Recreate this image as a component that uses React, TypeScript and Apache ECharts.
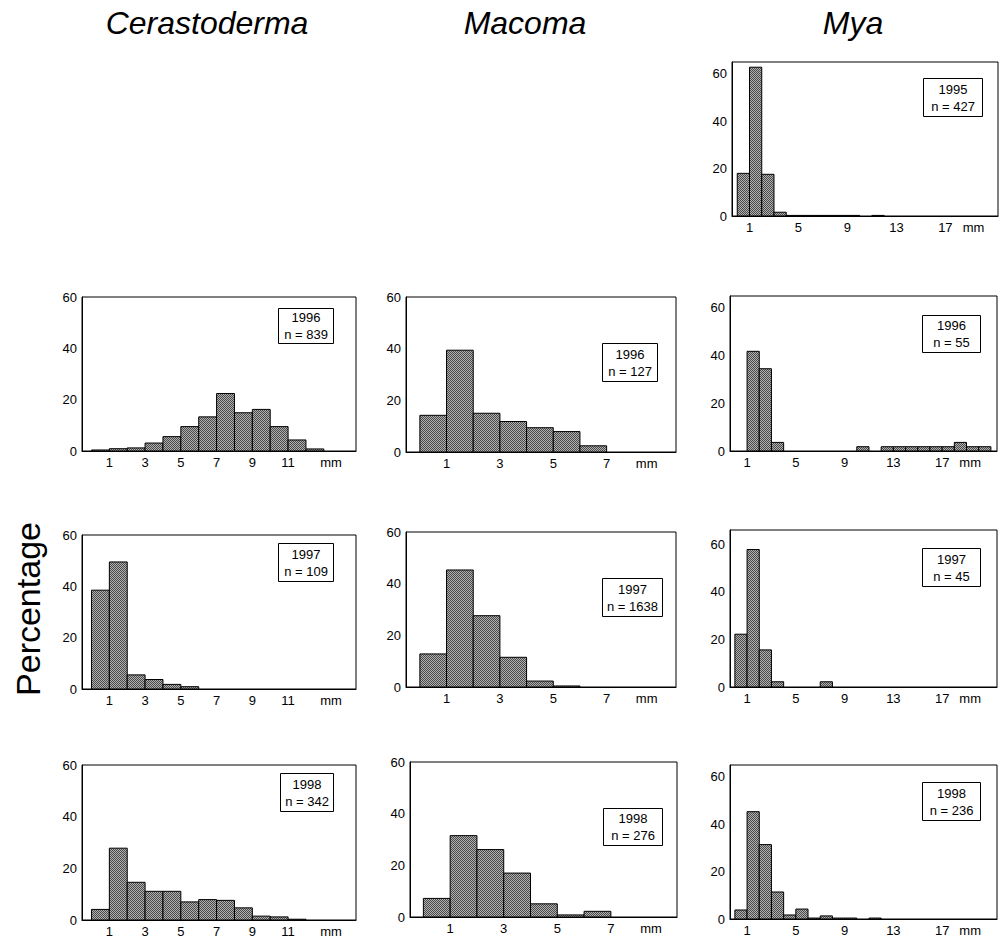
import React, { useEffect, useRef } from 'react';
import * as echarts from 'echarts';

// ---- Text ----
const speciesTitles = ['Cerastoderma', 'Macoma', 'Mya'];
const yAxisTitle = 'Percentage';
const unitLabel = 'mm';

// ---- Tick labels ----
const cerastodermaTicks = [1, 3, 5, 7, 9, 11];
const macomaTicks = [1, 3, 5, 7];
const myaTicks = [1, 5, 9, 13, 17];
const yTicks = [0, 20, 40, 60];

// ---- Data: % per 1-mm size class, first class = 0-1 mm ----
const cerastoderma1996 = [0.4, 0.9, 1.2, 3.1, 5.6, 9.5, 13.3, 22.4, 14.9, 16.2, 9.5, 4.3, 0.8];
const cerastoderma1997 = [38.5, 49.5, 5.5, 3.7, 1.8, 0.9];
const cerastoderma1998 = [4.1, 27.8, 14.6, 11.1, 11.1, 7.0, 7.9, 7.6, 4.7, 1.5, 1.2, 0.3];

const macoma1996 = [14.2, 39.4, 15.0, 11.8, 9.4, 7.9, 2.4];
const macoma1997 = [12.8, 45.3, 27.6, 11.5, 2.3, 0.4];
const macoma1998 = [7.2, 31.5, 26.1, 17.0, 5.1, 0.8, 2.2];

const mya1995 = [18.0, 62.8, 17.6, 1.6, 0.25, 0.25, 0.25, 0.25, 0.25, 0.25, 0, 0.25];
const mya1996 = [0, 41.8, 34.5, 3.6, 0, 0, 0, 0, 0, 0, 1.8, 0, 1.8, 1.8, 1.8, 1.8, 1.8, 1.8, 3.6, 1.8, 1.8];
const mya1997 = [22.2, 57.8, 15.6, 2.2, 0, 0, 0, 2.2];
const mya1998 = [3.8, 45.3, 31.4, 11.4, 1.7, 4.2, 0.4, 1.3, 0.4, 0.4, 0, 0.4];

// ---- Sample labels ----
const years = ['1995', '1996', '1997', '1998'];
const cerastodermaN = [839, 109, 342];
const macomaN = [127, 1638, 276];
const myaN = [427, 55, 45, 236];

// ---- Layout (pixels) ----
type Panel = {
  values: number[];
  grid: [number, number, number, number]; // left, top, right, bottom
  xMin: number;
  xMax: number;
  yMax: number;
  ticks: number[];
  unitPos: number;
  year: string;
  n: number;
  box: [number, number, number, number]; // left, top, w, h
};

const CER = { left: 82, right: 356, xMin: -0.53, xMax: 14.8, ticks: cerastodermaTicks, unitPos: 13.4 };
const MAC = { xMin: -0.52, xMax: 9.6, ticks: macomaTicks, unitPos: 8.5 };
const MYA = { left: 730, right: 997, xMin: -0.4, xMax: 21.5, ticks: myaTicks, unitPos: 19.3 };

const panels: Panel[] = [
  { values: cerastoderma1996, grid: [CER.left, 297, CER.right, 451], xMin: CER.xMin, xMax: CER.xMax, yMax: 60, ticks: CER.ticks, unitPos: CER.unitPos, year: years[1], n: cerastodermaN[0], box: [278, 308, 55, 35] },
  { values: cerastoderma1997, grid: [CER.left, 535, CER.right, 689], xMin: CER.xMin, xMax: CER.xMax, yMax: 60, ticks: CER.ticks, unitPos: CER.unitPos, year: years[2], n: cerastodermaN[1], box: [278, 543, 55, 38] },
  { values: cerastoderma1998, grid: [CER.left, 765, CER.right, 920], xMin: CER.xMin, xMax: CER.xMax, yMax: 60, ticks: CER.ticks, unitPos: CER.unitPos, year: years[3], n: cerastodermaN[2], box: [280, 773, 53, 38] },

  { values: macoma1996, grid: [406, 297, 676, 452], xMin: MAC.xMin, xMax: MAC.xMax, yMax: 60, ticks: MAC.ticks, unitPos: MAC.unitPos, year: years[1], n: macomaN[0], box: [602, 343, 55, 38] },
  { values: macoma1997, grid: [406, 532, 676, 687], xMin: MAC.xMin, xMax: MAC.xMax, yMax: 60, ticks: MAC.ticks, unitPos: MAC.unitPos, year: years[2], n: macomaN[1], box: [602, 578, 60, 38] },
  { values: macoma1998, grid: [410, 762, 677, 917], xMin: -0.5, xMax: 9.47, yMax: 60, ticks: MAC.ticks, unitPos: MAC.unitPos, year: years[3], n: macomaN[2], box: [603, 808, 59, 37] },

  { values: mya1995, grid: [MYA.left + 2, 62, MYA.right + 1, 216], xMin: -0.43, xMax: 21.3, yMax: 65, ticks: MYA.ticks, unitPos: MYA.unitPos, year: years[0], n: myaN[0], box: [923, 78, 59, 38] },
  { values: mya1996, grid: [MYA.left, 296, MYA.right, 451], xMin: MYA.xMin, xMax: MYA.xMax, yMax: 65, ticks: MYA.ticks, unitPos: MYA.unitPos, year: years[1], n: myaN[1], box: [922, 315, 58, 37] },
  { values: mya1997, grid: [MYA.left, 530, MYA.right, 687], xMin: MYA.xMin, xMax: MYA.xMax, yMax: 66, ticks: MYA.ticks, unitPos: MYA.unitPos, year: years[2], n: myaN[2], box: [922, 548, 58, 38] },
  { values: mya1998, grid: [MYA.left, 765, MYA.right, 919], xMin: MYA.xMin, xMax: MYA.xMax, yMax: 65, ticks: MYA.ticks, unitPos: MYA.unitPos, year: years[3], n: myaN[3], box: [922, 782, 58, 38] },
];

const titlePos: [number, number][] = [[207, 23], [525, 23], [853, 23]];

const FONT = 'Liberation Sans, Arial, Helvetica, sans-serif';

function makePattern(): HTMLCanvasElement {
  const c = document.createElement('canvas');
  c.width = 2;
  c.height = 2;
  const ctx = c.getContext('2d')!;
  ctx.fillStyle = '#b0b0b0';
  ctx.fillRect(0, 0, 2, 2);
  ctx.fillStyle = '#4a4a4a';
  ctx.fillRect(0, 0, 1, 1);
  ctx.fillRect(1, 1, 1, 1);
  return c;
}

export default function App() {
  const ref = useRef<HTMLDivElement>(null);

  useEffect(() => {
    document.body.style.margin = '0';
    const chart = echarts.init(ref.current!, null, { renderer: 'svg' });
    const pattern: any = { image: makePattern(), repeat: 'repeat' };

    const grid: any[] = [];
    const xAxis: any[] = [];
    const yAxis: any[] = [];
    const series: any[] = [];
    const graphic: any[] = [];

    panels.forEach((p, i) => {
      const [l, t, r, b] = p.grid;
      grid.push({
        left: l, top: t, width: r - l, height: b - t,
        show: true, borderColor: '#000', borderWidth: 1, backgroundColor: 'transparent',
        containLabel: false,
      });
      const labelValues = [...p.ticks, p.unitPos];
      xAxis.push({
        type: 'value', gridIndex: i, min: p.xMin, max: p.xMax,
        axisLine: { show: true, onZero: false, lineStyle: { color: '#000', width: 1 } },
        axisTick: { show: false },
        splitLine: { show: false },
        axisLabel: {
          customValues: labelValues,
          formatter: (v: number) => (v === p.unitPos ? unitLabel : String(v)),
          color: '#000', fontSize: 13, fontFamily: FONT, margin: 5,
        },
      });
      yAxis.push({
        type: 'value', gridIndex: i, min: 0, max: p.yMax,
        axisLine: { show: true, onZero: false, lineStyle: { color: '#000', width: 1 } },
        axisTick: { show: false },
        splitLine: { show: false },
        axisLabel: {
          customValues: yTicks,
          formatter: (v: number) => String(v),
          color: '#000', fontSize: 13, fontFamily: FONT, margin: 5,
        },
      });
      const data = p.values
        .map((v, k) => [k, k + 1, v])
        .filter((d) => d[2] > 0);
      series.push({
        type: 'custom', xAxisIndex: i, yAxisIndex: i,
        encode: { x: [0, 1], y: 2 },
        data,
        renderItem: (_params: any, api: any) => {
          const x0 = api.value(0);
          const x1 = api.value(1);
          const v = api.value(2);
          const p0 = api.coord([x0, 0]);
          const p1 = api.coord([x1, v]);
          return {
            type: 'rect',
            shape: { x: p0[0], y: p1[1], width: p1[0] - p0[0], height: p0[1] - p1[1] },
            style: { fill: pattern, stroke: '#000', lineWidth: 1 },
          };
        },
      });
      const [bx, by, bw, bh] = p.box;
      graphic.push({
        type: 'group', left: bx, top: by,
        children: [
          { type: 'rect', shape: { x: 0, y: 0, width: bw, height: bh }, style: { fill: '#fff', stroke: '#000', lineWidth: 1 } },
          {
            type: 'text', x: bw / 2, y: bh / 2,
            style: {
              text: `${p.year}\nn = ${p.n}`, fill: '#000', fontSize: 13, fontFamily: FONT,
              align: 'center', verticalAlign: 'middle', lineHeight: 17,
            },
          },
        ],
      });
    });

    speciesTitles.forEach((s, i) => {
      graphic.push({
        type: 'text', x: titlePos[i][0], y: titlePos[i][1],
        style: {
          text: s, fill: '#000', fontSize: 32, fontStyle: 'italic', fontFamily: FONT,
          align: 'center', verticalAlign: 'middle',
        },
      });
    });

    graphic.push({
      type: 'text', x: 28, y: 609, rotation: Math.PI / 2,
      style: {
        text: yAxisTitle, fill: '#000', fontSize: 34, fontFamily: FONT,
        align: 'center', verticalAlign: 'middle',
      },
    });

    chart.setOption({
      animation: false,
      backgroundColor: '#fff',
      grid, xAxis, yAxis, series, graphic,
    });
    return () => chart.dispose();
  }, []);

  return <div ref={ref} style={{ width: 1004, height: 938 }} />;
}
